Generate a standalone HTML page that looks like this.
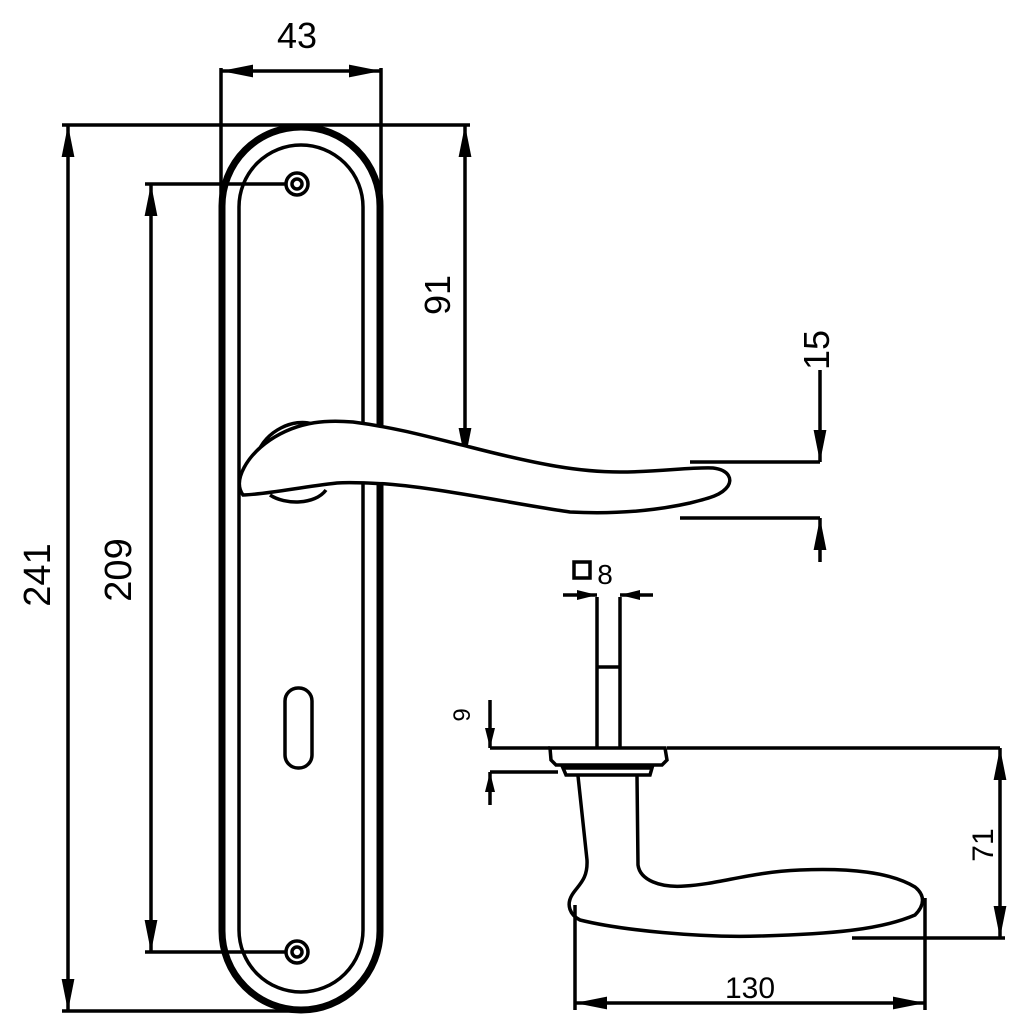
<!DOCTYPE html>
<html><head><style>html,body{margin:0;padding:0;background:#fff}svg{display:block}</style></head>
<body>
<svg width="1024" height="1024" viewBox="0 0 1024 1024" xmlns="http://www.w3.org/2000/svg">
<defs>
<marker id="a" viewBox="0 0 30 12" refX="30" refY="6" markerWidth="32" markerHeight="13" markerUnits="userSpaceOnUse" orient="auto-start-reverse"><path d="M0,0 L30,6 L0,12 Z" fill="#000"/></marker>
<marker id="s" viewBox="0 0 20 10" refX="20" refY="5" markerWidth="20" markerHeight="10" markerUnits="userSpaceOnUse" orient="auto-start-reverse"><path d="M0,0 L20,5 L0,10 Z" fill="#000"/></marker>
</defs>
<g fill="none" stroke="#000" stroke-width="3.5">
<rect x="222" y="127" width="158" height="883" rx="79" stroke-width="7"/>
<rect x="239" y="145" width="124" height="847" rx="62"/>
<circle cx="297" cy="184" r="11"/><circle cx="297" cy="184" r="5"/>
<circle cx="297" cy="952" r="11"/><circle cx="297" cy="952" r="5"/>
<rect x="285" y="688" width="27" height="80" rx="13"/>
<line x1="221" y1="68" x2="221" y2="200"/><line x1="381" y1="68" x2="381" y2="200"/>
<line x1="221" y1="71" x2="381" y2="71" marker-start="url(#a)" marker-end="url(#a)"/>
<line x1="62" y1="125" x2="470" y2="125"/><line x1="62" y1="1011" x2="300" y2="1011"/>
<line x1="68" y1="125" x2="68" y2="1011" marker-start="url(#a)" marker-end="url(#a)"/>
<line x1="145" y1="184" x2="287" y2="184"/><line x1="145" y1="952" x2="287" y2="952"/>
<line x1="151" y1="184" x2="151" y2="952" marker-start="url(#a)" marker-end="url(#a)"/>
<line x1="465" y1="125" x2="465" y2="460" marker-start="url(#a)" marker-end="url(#a)"/>
<line x1="337" y1="460" x2="465" y2="460"/>
<path d="M257,455 C265,430 295,418 312,424" />
<path d="M270,495 C285,505 315,505 326,490" />
<path d="M243,495 C232,480 248,455 270,440 C300,420 330,420 353,422 C400,428 440,440 470,447 C540,465 580,472 620,472 C660,472 690,467 713,468 C730,470 732,480 728,486 C722,495 710,498 690,503 C650,512 610,514 570,512 C520,505 440,488 387,484 C370,483 350,482 337,483 C300,487 270,494 243,495 Z" fill="#fff"/>
<line x1="690" y1="462" x2="820" y2="462"/><line x1="680" y1="518" x2="820" y2="518"/>
<line x1="820" y1="370" x2="820" y2="462" marker-end="url(#a)"/>
<line x1="820" y1="562" x2="820" y2="518" marker-end="url(#a)"/>
<line x1="563" y1="595" x2="597" y2="595" marker-end="url(#s)"/>
<line x1="653" y1="595" x2="620" y2="595" marker-end="url(#s)"/>
<path d="M597,597 V748 M620,597 V748 M597,667 H620"/>
<path d="M550,748 H665 L667,760 L662,765 H556 L551,760 Z"/>
<path d="M563,768 H652 L650,775 H566 Z"/>
<line x1="667" y1="748" x2="1000" y2="748"/>
<line x1="490" y1="748" x2="550" y2="748"/><line x1="490" y1="772" x2="558" y2="772"/>
<line x1="490" y1="700" x2="490" y2="748" marker-end="url(#s)"/>
<line x1="490" y1="805" x2="490" y2="772" marker-end="url(#s)"/>
<path d="M578,776 L587,860 C588,880 578,885 572,895 C566,905 570,915 580,920 C620,930 700,938 760,936 C830,934 880,930 915,915 C925,905 925,895 915,887 C890,872 850,868 800,870 C750,872 720,884 685,886 C660,888 640,880 638,865 L637,776"/>
<line x1="575" y1="905" x2="575" y2="1010"/><line x1="925" y1="898" x2="925" y2="1010"/>
<line x1="575" y1="1003" x2="925" y2="1003" marker-start="url(#a)" marker-end="url(#a)"/>
<line x1="852" y1="938" x2="1005" y2="938"/>
<line x1="1000" y1="748" x2="1000" y2="938" marker-start="url(#a)" marker-end="url(#a)"/>
</g>
<g font-family="Liberation Sans, sans-serif" font-size="36" fill="#000" text-anchor="middle">
<text x="297" y="48">43</text>
<text transform="translate(50,575) rotate(-90)" font-size="38">241</text>
<text transform="translate(131,570) rotate(-90)" font-size="38">209</text>
<text transform="translate(450,295) rotate(-90)">91</text>
<text transform="translate(829,350) rotate(-90)">15</text>
<text x="750" y="998" font-size="30">130</text>
<text transform="translate(993,845) rotate(-90)" font-size="30">71</text>
<text transform="translate(470,715) rotate(-90)" font-size="24">9</text>
<text x="605" y="584" font-size="28">8</text>
</g>
<rect x="574" y="562" width="16" height="16" fill="none" stroke="#000" stroke-width="3.5"/>
</svg>
</body></html>
